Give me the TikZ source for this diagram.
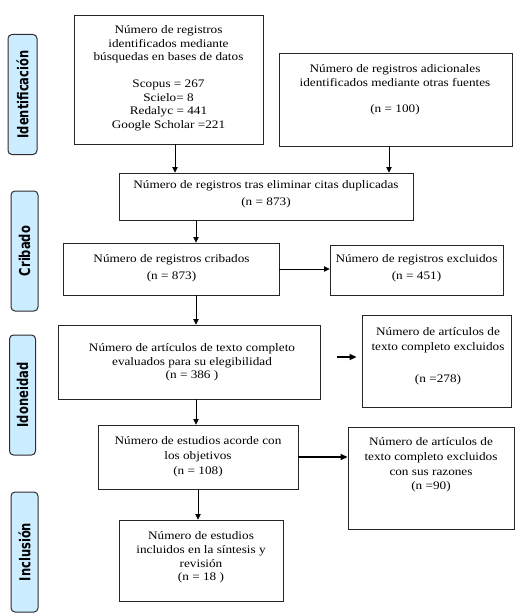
\documentclass[tikz,border=0pt]{standalone}
\usepackage{fontspec}
\setmainfont{Liberation Serif}[FakeStretch=1.15]
\newfontfamily\labfont{DejaVu Sans}
\usetikzlibrary{arrows.meta}
\definecolor{labfill}{RGB}{204,236,255}
\definecolor{labline}{RGB}{45,45,45}
\tikzset{
  box/.style={draw=black!85, line width=0.9pt, inner sep=0pt, rectangle},
  txt/.style={align=center, inner sep=0pt, font=\fontsize{11.5}{13.5}\selectfont},
  stage/.style={draw=labline, fill=labfill, rounded corners=4pt, line width=1pt,
    minimum width=27pt, minimum height=120pt, inner sep=0pt},
  arr/.style={line width=0.7pt, -{Triangle[length=5.5pt,width=5.5pt]}},
  tarr/.style={line width=2pt, -{Triangle[length=7pt,width=6pt]}},
}
\newcommand\stagetext[1]{\rotatebox{90}{\scalebox{1}[1.3]{\labfont\bfseries\fontsize{11.5}{14}\selectfont #1}}}
\begin{document}
\begin{tikzpicture}[x=1pt,y=-1pt]
\useasboundingbox (0,0) rectangle (522,615);
% stage labels
\node[stage, minimum width=29pt] (s1) at (22.5,94.5) {\stagetext{Identificación}};
\node[stage] (s2) at (24.5,251) {\stagetext{Cribado}};
\node[stage, minimum width=26pt] (s3) at (22.5,395) {\stagetext{Idoneidad}};
\node[stage] (s4) at (24.5,552) {\stagetext{Inclusión}};
% boxes
\node[box, minimum width=189pt, minimum height=129pt] (b1) at (168.5,79.5) {};
\node[txt] (t1) at (168.5,78) {Número de registros\\identificados mediante\\búsquedas en bases de datos\\[13.5pt]Scopus = 267\\Scielo= 8\\Redalyc = 441\\Google Scholar =221};
\node[box, minimum width=233pt, minimum height=93pt] (b2) at (395.5,99.5) {};
\node[txt, font=\fontsize{11.5}{14}\selectfont] (t2) at (395,90) {Número de registros adicionales\\identificados mediante otras fuentes\\[12pt](n = 100)};
\node[box, minimum width=294pt, minimum height=47pt] (b3) at (266,196.5) {};
\node[txt, font=\fontsize{11.5}{17}\selectfont] (t3) at (266,194.5) {Número de registros tras eliminar citas duplicadas\\(n = 873)};
\node[box, minimum width=216pt, minimum height=52pt] (b4) at (171,269) {};
\node[txt, font=\fontsize{11.5}{16.7}\selectfont] (t4) at (171.5,268.5) {Número de registros cribados\\(n = 873)};
\node[box, minimum width=173pt, minimum height=50pt] (b5) at (416.5,270) {};
\node[txt, font=\fontsize{11.5}{16.7}\selectfont] (t5) at (416.5,268.5) {Número de registros excluidos\\(n = 451)};
\node[box, minimum width=262pt, minimum height=74pt] (b6) at (189,362) {};
\node[txt] (t6) at (192,362.5) {Número de artículos de texto completo\\evaluados para su elegibilidad\\(n = 386 )};
\node[box, minimum width=149pt, minimum height=92pt] (b7) at (436.5,361) {};
\node[txt, font=\fontsize{11.5}{15}\selectfont] (t7) at (438,356.5) {Número de artículos de\\texto completo excluidos\\[17pt](n =278)};
\node[box, minimum width=200pt, minimum height=64pt] (b8) at (198,457) {};
\node[txt, font=\fontsize{11.5}{15}\selectfont] (t8) at (198,457) {Número de estudios acorde con\\los objetivos\\(n = 108)};
\node[box, minimum width=166pt, minimum height=102pt] (b9) at (431,478) {};
\node[txt, font=\fontsize{11.5}{14.7}\selectfont] (t9) at (431,465) {Número de artículos de\\texto completo excluidos\\con sus razones\\(n =90)};
\node[box, minimum width=164pt, minimum height=81pt] (b10) at (201,560.5) {};
\node[txt, font=\fontsize{11.5}{13.7}\selectfont] (t10) at (201,557.5) {Número de estudios\\incluidos en la síntesis y\\revisión\\(n = 18 )};
% connectors
\draw[arr] ([xshift=6.5pt]b1.south) -- ([xshift=6.5pt]b1.south |- b3.north);
\draw[arr] ([xshift=-6.5pt]b2.south) -- ([xshift=-6.5pt]b2.south |- b3.north);
\draw[arr] ([xshift=25pt]b4.north |- b3.south) -- ([xshift=25pt]b4.north);
\draw[arr] (b4.east) -- (b4.east -| b5.west);
\draw[arr] ([xshift=25pt]b4.south) -- ([xshift=25pt]b4.south |- b6.north);
\draw[tarr, shorten <=17pt, shorten >=5pt] ([yshift=5pt]b6.east) -- ([yshift=5pt]b6.east -| b7.west);
\draw[arr] ([xshift=-2pt]b8.north |- b6.south) -- ([xshift=-2pt]b8.north);
\draw[tarr] (b8.east) -- (b8.east -| b9.west);
\draw[arr] (b8.south) -- (b8.south |- b10.north);
\end{tikzpicture}
\end{document}
